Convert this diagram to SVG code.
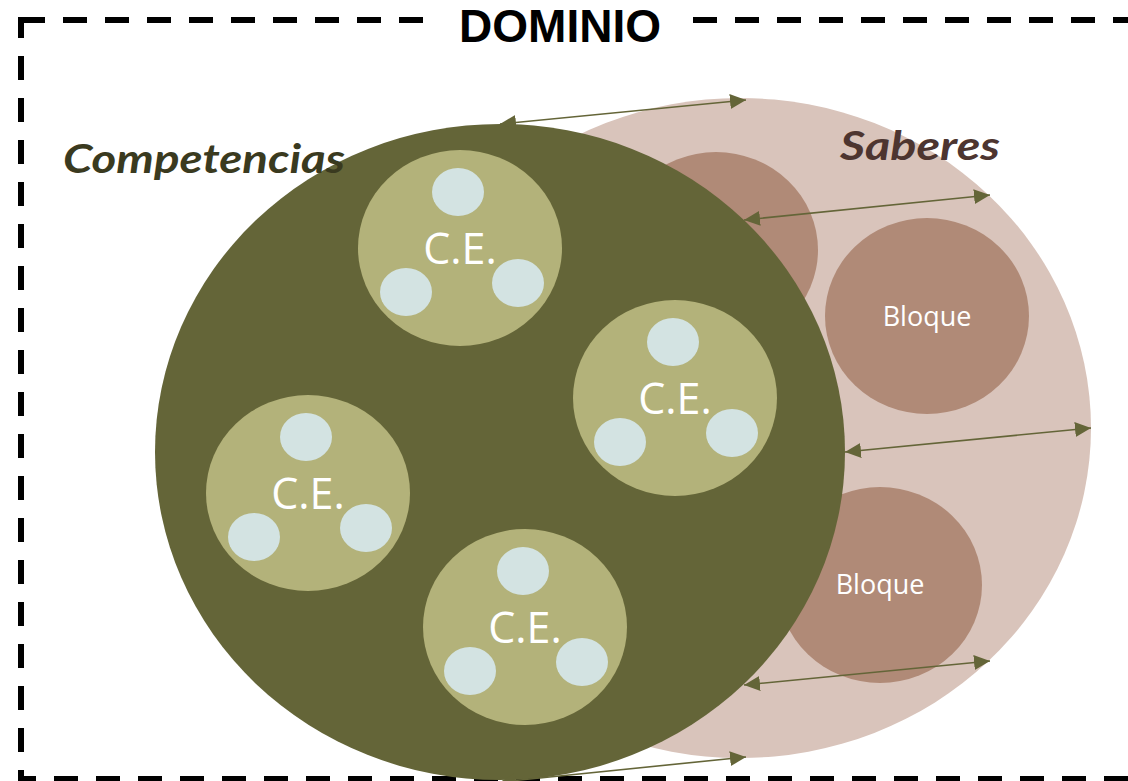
<svg xmlns="http://www.w3.org/2000/svg" width="1128" height="781" viewBox="0 0 1128 781">
<style>
.ce{fill:#B3B27A}
.dot{fill:#D3E3E2}
.bl{fill:#B08A77}
.cet{font-family:"Open Sans","Liberation Sans",sans-serif;font-size:43px;fill:#ffffff;text-anchor:middle}
.blt{font-family:"Open Sans","Liberation Sans",sans-serif;font-size:27px;fill:#ffffff;text-anchor:middle}
.lbl{font-family:Lato,"Open Sans","Liberation Sans",sans-serif;font-size:40px;font-weight:bold;font-style:italic}
.conn{stroke:#646538;stroke-width:1.6;fill:none;marker-start:url(#ah);marker-end:url(#ah)}
</style>
<defs>
<marker id="ah" viewBox="0 0 16 15" refX="16" refY="7.5" markerWidth="16" markerHeight="15" markerUnits="userSpaceOnUse" orient="auto-start-reverse">
<path d="M0,0 L16,7.5 L0,15 Z" fill="#646538"/>
</marker>
</defs>
<rect width="1128" height="781" fill="#ffffff"/>
<g id="dominio">
<rect x="21" y="20" width="1140" height="759" fill="none" stroke="#000000" stroke-width="6" stroke-dasharray="24 18"/>
<rect x="438" y="4" width="246" height="40" fill="#ffffff"/>
<text x="560" y="42" font-family="Liberation Sans,Arial,sans-serif" font-size="46" font-weight="bold" text-anchor="middle" textLength="202" lengthAdjust="spacingAndGlyphs" fill="#000000">DOMINIO</text>
</g>
<g id="saberes">
<ellipse cx="740" cy="428" rx="351" ry="330" fill="#D9C4BB"/>
<text class="lbl" x="840" y="160" fill="#4D3530" textLength="160" lengthAdjust="spacingAndGlyphs">Saberes</text>
</g>
<g id="bloque1"><ellipse class="bl" cx="716" cy="250" rx="102" ry="98"/></g>
<g id="bloque2"><ellipse class="bl" cx="927" cy="316" rx="102" ry="98"/><text class="blt" x="927" y="326">Bloque</text></g>
<g id="bloque3"><ellipse class="bl" cx="880" cy="585" rx="102" ry="98"/><text class="blt" x="880" y="594">Bloque</text></g>
<g id="competencias">
<ellipse cx="500" cy="452" rx="345" ry="328" fill="#646538"/>
<text class="lbl" x="63" y="173" fill="#3A3A1F" textLength="282" lengthAdjust="spacingAndGlyphs">Competencias</text>
</g>
<g id="ce1"><ellipse class="ce" cx="460" cy="248" rx="102" ry="98"/><ellipse class="dot" cx="458" cy="192" rx="26" ry="24"/><ellipse class="dot" cx="406" cy="292" rx="26" ry="24"/><ellipse class="dot" cx="518" cy="283" rx="26" ry="24"/><text class="cet" x="460" y="264">C.E.</text></g>
<g id="ce2"><ellipse class="ce" cx="675" cy="398" rx="102" ry="98"/><ellipse class="dot" cx="673" cy="342" rx="26" ry="24"/><ellipse class="dot" cx="620" cy="442" rx="26" ry="24"/><ellipse class="dot" cx="732" cy="433" rx="26" ry="24"/><text class="cet" x="675" y="414">C.E.</text></g>
<g id="ce3"><ellipse class="ce" cx="308" cy="493" rx="102" ry="98"/><ellipse class="dot" cx="306" cy="437" rx="26" ry="24"/><ellipse class="dot" cx="254" cy="537" rx="26" ry="24"/><ellipse class="dot" cx="366" cy="528" rx="26" ry="24"/><text class="cet" x="308" y="509">C.E.</text></g>
<g id="ce4"><ellipse class="ce" cx="525" cy="627" rx="102" ry="98"/><ellipse class="dot" cx="523" cy="571" rx="26" ry="24"/><ellipse class="dot" cx="470" cy="671" rx="26" ry="24"/><ellipse class="dot" cx="582" cy="662" rx="26" ry="24"/><text class="cet" x="525" y="643">C.E.</text></g>
<g id="connectors">
<line class="conn" x1="500" y1="124" x2="746" y2="100"/>
<line class="conn" x1="744" y1="220" x2="990" y2="195"/>
<line class="conn" x1="845" y1="452" x2="1091" y2="428"/>
<line class="conn" x1="744" y1="685" x2="990" y2="661"/>
<line class="conn" x1="500" y1="782" x2="746" y2="757"/>
</g>
</svg>
